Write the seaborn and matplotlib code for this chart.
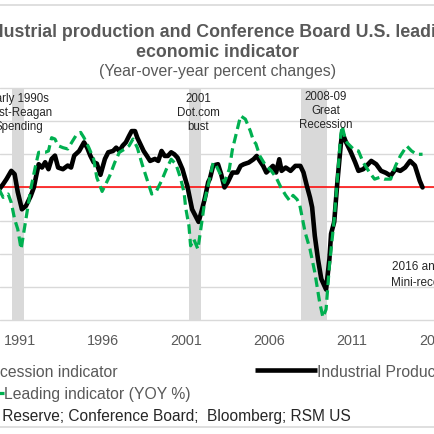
import matplotlib
matplotlib.use("Agg")
import matplotlib.pyplot as plt
import seaborn as sns
from matplotlib.lines import Line2D
from matplotlib.patches import Patch

# --- data: (year, YoY %) ---
ip_points = [
    (1989.75, -0.3), (1989.99, 0.5), (1990.19, 1.25), (1990.48, 2.5), (1990.68, 2.0),
    (1990.87, -0.7), (1991.12, -3.3), (1991.36, -2.8), (1991.65, -1.3), (1991.84, 0.0),
    (1991.98, 1.75), (1992.13, 3.5), (1992.33, 3.0), (1992.52, 3.8), (1992.72, 2.75),
    (1992.91, 4.3), (1993.11, 4.8), (1993.30, 3.0), (1993.59, 2.75), (1993.88, 3.3),
    (1994.08, 3.0), (1994.27, 4.8), (1994.57, 5.5), (1994.86, 6.8), (1995.05, 6.0),
    (1995.24, 4.8), (1995.44, 3.8), (1995.63, 3.6), (1995.85, 1.9), (1996.12, 4.3),
    (1996.32, 5.3), (1996.61, 5.5), (1996.80, 6.0), (1996.99, 5.5), (1997.19, 6.3),
    (1997.38, 6.8), (1997.58, 7.8), (1997.73, 8.5), (1997.93, 8.5), (1998.07, 7.5),
    (1998.26, 6.5), (1998.45, 5.5), (1998.65, 4.75), (1998.84, 4.0), (1999.13, 4.3),
    (1999.33, 4.0), (1999.53, 5.5), (1999.72, 4.75), (1999.91, 4.75), (2000.11, 5.3),
    (2000.30, 5.0), (2000.49, 4.5), (2000.79, 2.75), (2001.08, 0.25), (2001.37, -3.3),
    (2001.76, -5.2), (2001.95, -3.5), (2002.15, -1.5), (2002.34, 0.8), (2002.44, 1.3),
    (2002.64, 3.3), (2002.93, 3.5), (2003.12, 2.0), (2003.32, 0.0), (2003.51, 0.75),
    (2003.80, 2.25), (2004.09, 2.25), (2004.29, 3.25), (2004.48, 3.5), (2004.78, 3.75),
    (2005.07, 4.25), (2005.26, 4.75), (2005.45, 4.0), (2005.65, 3.25), (2005.84, 2.25),
    (2006.04, 2.75), (2006.24, 3.25), (2006.43, 2.25), (2006.62, 4.25), (2006.76, 2.5),
    (2007.01, 3.0), (2007.30, 2.5), (2007.59, 3.25), (2007.89, 3.25), (2008.08, 2.25),
    (2008.28, 0.25), (2008.47, -1.5), (2008.60, -3.0), (2008.76, -7.3), (2008.95, -10.8),
    (2009.15, -13.8), (2009.44, -15.4), (2009.64, -10.8), (2009.74, -7.0), (2009.93, -5.2),
    (2010.12, 0.8), (2010.32, 6.3), (2010.41, 8.3), (2010.61, 7.0), (2010.90, 5.5),
    (2011.19, 3.8), (2011.39, 2.5), (2011.68, 2.75), (2011.97, 3.5), (2012.16, 4.0),
    (2012.46, 3.5), (2012.75, 2.5), (2013.04, 2.2), (2013.33, 1.75), (2013.62, 2.75),
    (2013.91, 2.5), (2014.20, 3.0), (2014.50, 4.0), (2014.79, 3.3), (2015.08, 1.0),
    (2015.25, 0.0),
]
lei_points = [
    (1989.75, -0.3), (1989.99, -1.5), (1990.29, -1.0), (1990.48, -2.3), (1990.68, -4.8),
    (1990.87, -6.3), (1991.07, -9.3), (1991.36, -4.8), (1991.65, -0.25), (1991.94, 3.25),
    (1992.13, 5.3), (1992.52, 5.3), (1992.72, 5.5), (1992.91, 7.5), (1993.11, 7.3),
    (1993.30, 6.3), (1993.59, 6.0), (1993.88, 5.8), (1994.17, 7.0), (1994.37, 7.8),
    (1994.66, 8.3), (1994.86, 7.5), (1995.15, 6.0), (1995.44, 4.3), (1995.63, 1.5),
    (1995.95, -0.6), (1996.15, 0.4), (1996.41, 1.75), (1996.71, 3.75), (1996.99, 5.3),
    (1997.29, 5.75), (1997.58, 6.3), (1997.81, 7.3), (1998.07, 6.0), (1998.36, 3.5),
    (1998.65, 1.25), (1998.94, -1.0), (1999.23, -0.5), (1999.53, 1.0), (1999.82, 2.75),
    (2000.11, 4.25), (2000.40, 3.5), (2000.69, 1.25), (2000.89, -0.8), (2000.98, -3.0),
    (2001.18, -5.8), (2001.28, -8.8), (2001.47, -7.8), (2001.72, -9.3), (2001.95, -5.3),
    (2002.15, -1.75), (2002.44, 1.5), (2002.64, 3.75), (2002.83, 3.25), (2003.12, 1.75),
    (2003.32, 0.75), (2003.61, 2.75), (2003.80, 5.75), (2003.98, 7.6), (2004.29, 10.8),
    (2004.58, 10.3), (2004.88, 8.5), (2005.07, 7.0), (2005.21, 6.6), (2005.45, 4.75),
    (2005.75, 3.5), (2006.14, 2.5), (2006.43, 1.5), (2006.72, 0.0), (2007.01, -1.2),
    (2007.25, -2.0), (2007.45, -1.2), (2007.69, -1.8), (2007.85, -2.6), (2008.18, -6.8),
    (2008.47, -9.3), (2008.76, -12.8), (2009.05, -17.3), (2009.25, -19.6), (2009.44, -18.4),
    (2009.64, -11.8), (2009.93, -4.8), (2010.12, 1.25), (2010.32, 7.8), (2010.41, 9.3),
    (2010.61, 7.0), (2010.80, 6.5), (2011.10, 5.75), (2011.39, 5.5), (2011.68, 3.75),
    (2012.06, 2.25), (2012.36, 1.25), (2012.65, 1.5), (2012.94, 1.25), (2013.33, 1.25),
    (2013.62, 3.25), (2013.91, 4.75), (2014.30, 6.25), (2014.59, 5.5), (2014.89, 5.0),
    (2015.25, 5.0),
]
ip_years = [p[0] for p in ip_points]
ip_values = [p[1] for p in ip_points]
lei_years = [p[0] for p in lei_points]
lei_values = [p[1] for p in lei_points]

rec_starts = [1990.50, 2001.17, 2007.92]
rec_ends = [1991.25, 2001.92, 2009.50]

year_ticks = [1991, 1996, 2001, 2006, 2011, 2016]
year_labels = [str(y) for y in year_ticks]
grid_levels = [-20, -15, -10, -5, 0, 5, 10, 15]

GRAY_TXT = "#595959"
DARK_TXT = "#262626"
GRID = "#d9d9d9"
GREEN = "#00b050"

sns.set_theme(style="white")
plt.rcParams["font.family"] = ["Liberation Sans", "DejaVu Sans"]

W = H = 435.0
def fx(px):
    return px / W
def fy(py):
    return 1 - py / H

fig = plt.figure(figsize=(4.35, 4.35), dpi=100)
ax = fig.add_axes([0, fy(321), 1, (321 - 89) / H])

for s, e in zip(rec_starts, rec_ends):
    ax.axvspan(s, e, color=GRID, lw=0, zorder=0)

ax.axhline(0, color="#ff0000", lw=1.1, zorder=1.5)
sns.lineplot(x=ip_years, y=ip_values, ax=ax, color="black", lw=3.3, zorder=3)
sns.lineplot(x=lei_years, y=lei_values, ax=ax, color=GREEN, lw=2.3,
             linestyle=(0, (3, 1.6)), zorder=4)

ax.set_xlim(1989.8, 2015.18)
ax.set_ylim(-20, 15)
ax.set_yticks(grid_levels)
ax.set_xticks(year_ticks)
ax.set_xticklabels(year_labels)
ax.set_xlabel("")
ax.set_ylabel("")
ax.grid(axis="y", color=GRID, lw=1.0)
ax.grid(axis="x", visible=False)
for gl in ax.get_ygridlines():
    gl.set_clip_on(False)
ax.tick_params(axis="y", length=0, labelleft=False)
ax.tick_params(axis="x", length=0, pad=9.5, labelsize=10.4, labelcolor=GRAY_TXT)
for sp in ax.spines.values():
    sp.set_visible(False)
ax.set_facecolor("none")

# titles
fig.text(fx(217.5), fy(37.3), "Industrial production and Conference Board U.S. leading",
         ha="center", va="baseline", fontsize=12.8, fontweight="bold", color=GRAY_TXT)
fig.text(fx(217.5), fy(57.3), "economic indicator",
         ha="center", va="baseline", fontsize=12.8, fontweight="bold", color=GRAY_TXT)
fig.text(fx(217.5), fy(76), "(Year-over-year percent changes)",
         ha="center", va="baseline", fontsize=11.4, color=GRAY_TXT)

# annotations
notes = [
    (18.8, [102.3, 116, 129.7], ["Early 1990s", "Post-Reagan", "Spending"]),
    (198.5, [102.3, 116, 129.7], ["2001", "Dot.com", "bust"]),
    (325.5, [100, 113.7, 127.5], ["2008-09", "Great", "Recession"]),
]
for cx, ys, lines in notes:
    for yb, t in zip(ys, lines):
        fig.text(fx(cx), fy(yb), t, ha="center", va="baseline", fontsize=8.3, color=DARK_TXT)
fig.text(fx(392.5), fy(269.5), "2016 and 2017", ha="left", va="baseline", fontsize=8.5, color=DARK_TXT)
fig.text(fx(391.5), fy(286), "Mini-recession", ha="left", va="baseline", fontsize=8.5, color=DARK_TXT)

# legend (one entry per box so each sits where the reference has it)
fs_leg = 11.3
fs_px = fs_leg * 100 / 72
hl = 3.91
leg_kw = dict(loc="center left", frameon=False, fontsize=fs_leg, handlelength=hl,
              handletextpad=0, borderpad=0, borderaxespad=0, labelcolor=GRAY_TXT)
fig.legend([Patch(color=GRID)], ["Recession indicator"],
           bbox_to_anchor=(fx(-20 - hl * fs_px), fy(372.3)), **leg_kw)
fig.legend([Line2D([], [], color=GREEN, lw=2.3, ls=(0, (3, 1.6)))], ["Leading indicator (YOY %)"],
           bbox_to_anchor=(fx(4 - hl * fs_px), fy(394.6)), **leg_kw)
fig.legend([Line2D([], [], color="black", lw=3.3, solid_capstyle="butt")], ["Industrial Production"],
           bbox_to_anchor=(fx(260 - 0.3 * fs_px), fy(372.3)), **leg_kw)

fig.text(fx(351), fy(421), "Source: Federal Reserve; Conference Board;  Bloomberg; RSM US",
         ha="right", va="baseline", fontsize=11.2, color=DARK_TXT)

# frame lines
fig.add_artist(Line2D([0, 1], [fy(6), fy(6)], transform=fig.transFigure, color=GRID, lw=1.2))
fig.add_artist(Line2D([0, 1], [fy(428), fy(428)], transform=fig.transFigure, color=GRID, lw=1.2))

fig.savefig("out.png", dpi=100)
